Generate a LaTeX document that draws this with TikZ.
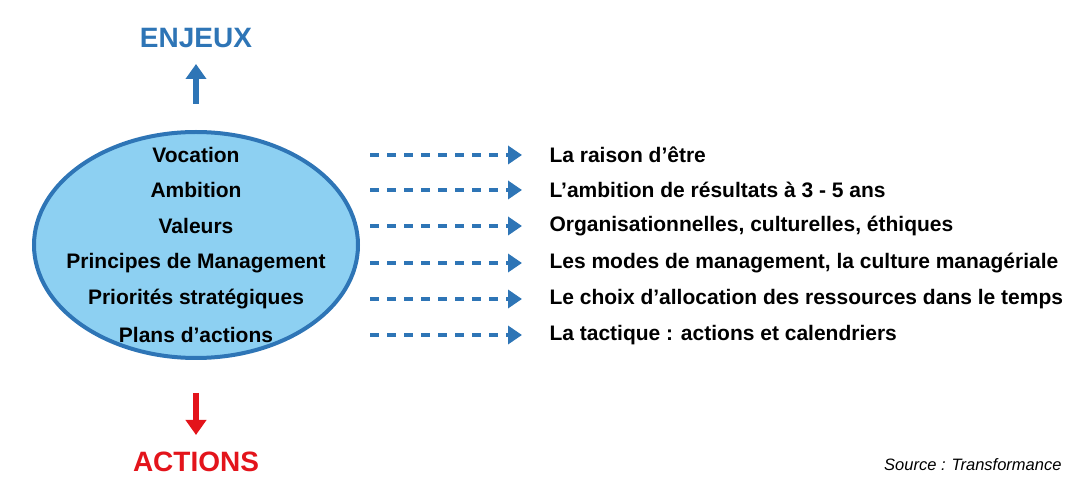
\documentclass[tikz,border=0pt]{standalone}
\usepackage{fontspec}
\setmainfont{Liberation Sans}
\usetikzlibrary{arrows.meta,shapes.geometric}
\definecolor{bl}{HTML}{2E75B6}
\definecolor{lb}{HTML}{8DD0F2}
\definecolor{rd}{HTML}{E3141B}
\begin{document}
\begin{tikzpicture}[x=1pt,y=-1pt,
  lbl/.style={font=\bfseries\fontsize{21}{24}\selectfont},
  dashar/.style={draw=bl,line width=4pt,dash pattern=on 9pt off 8pt,-{Triangle[length=14pt,width=18pt]}}]
\useasboundingbox (0,0) rectangle (1080,494);
\node[ellipse,draw=bl,line width=4pt,fill=lb,minimum width=324pt,minimum height=226pt] (ell) at (196,245) {};
\node[font=\bfseries\fontsize{28}{30}\selectfont,text=bl] (enj) at (196,38) {ENJEUX};
\node[font=\bfseries\fontsize{28}{30}\selectfont,text=rd] (act) at (196,462) {ACTIONS};
\coordinate (u0) at (196,104); \coordinate (u1) at (196,64);
\draw[bl,line width=6pt,-{Triangle[length=15pt,width=20pt]}] (u0) -- (u1);
\coordinate (d0) at (196,393); \coordinate (d1) at (196,435);
\draw[rd,line width=6pt,-{Triangle[length=15pt,width=20pt]}] (d0) -- (d1);
\foreach \i/\y/\l/\r in {1/155/Vocation/La raison d’être,
  2/190/Ambition/L’ambition de résultats à 3 - 5 ans,
  3/226/Valeurs/{Organisationnelles, culturelles, éthiques},
  4/263/Principes de Management/{Les modes de management, la culture managériale},
  5/299/Priorités stratégiques/Le choix d’allocation des ressources dans le temps,
  6/335/Plans d’actions/La tactique : actions et calendriers}{
  \node[lbl] (l\i) at (196,\y) {\l};
  \node[lbl,anchor=west] (r\i) at (546,\y) {\r};
  \coordinate (a\i) at (370,\y); \coordinate (b\i) at (522,\y);
  \draw[dashar] (a\i) -- (b\i);
}
\node[anchor=east,font=\itshape\fontsize{16.5}{18}\selectfont] (src) at (1065,465) {Source : Transformance};
\end{tikzpicture}
\end{document}
